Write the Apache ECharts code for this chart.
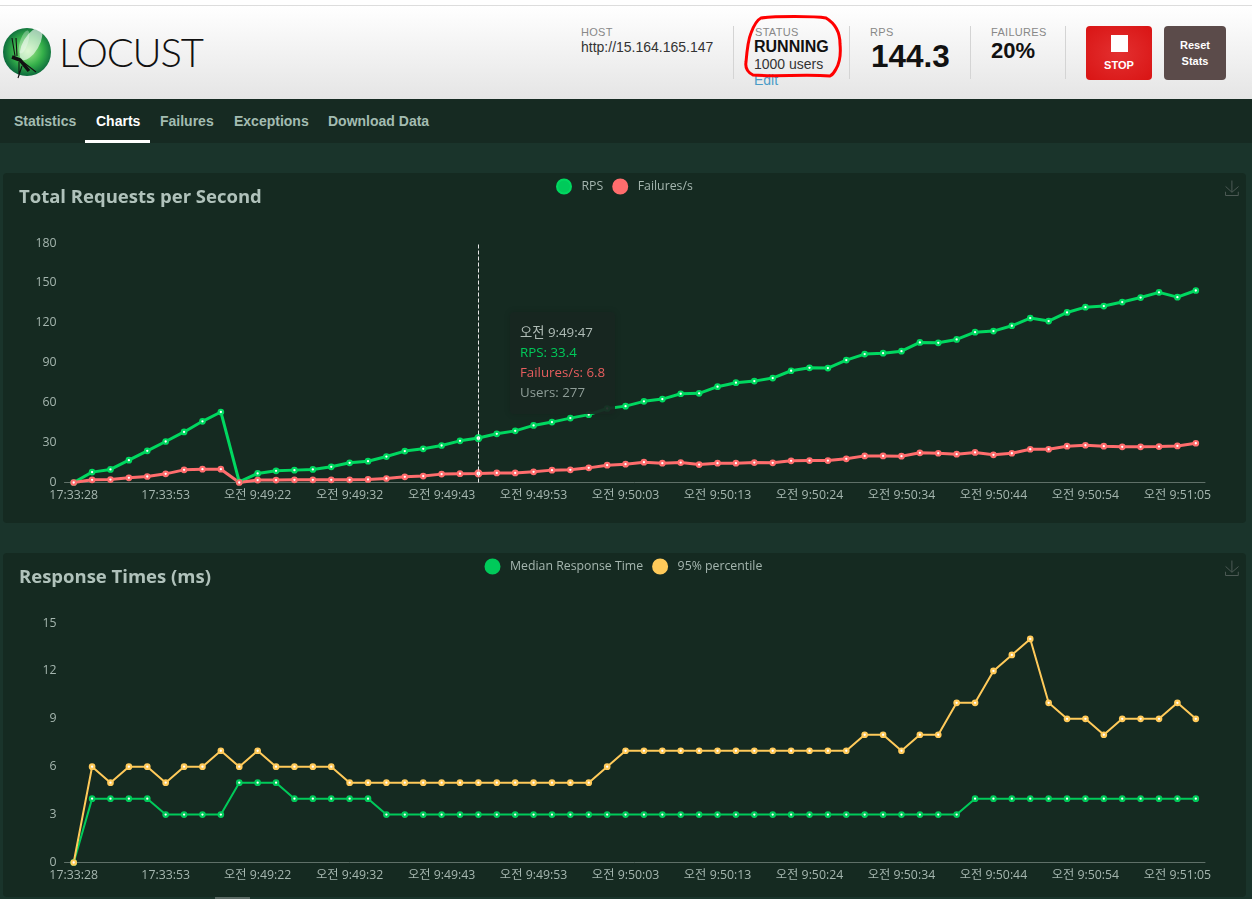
<!DOCTYPE html>
<html>
<head>
<meta charset="utf-8">
<title>Locust</title>
<script src="https://cdn.jsdelivr.net/npm/echarts@6/dist/echarts.min.js"></script>
<style>
  html, body { margin: 0; padding: 0; width: 1252px; height: 899px; overflow: hidden; background: #1a342b; font-family: "Liberation Sans", Arial, sans-serif; }
  .abs { position: absolute; white-space: nowrap; }
  #topbar { position: absolute; left: 0; top: 0; width: 1252px; height: 5px; background: #fff; }
  #header { position: absolute; left: 0; top: 5px; width: 1252px; height: 93px; border-top: 1px solid #ddd; background: linear-gradient(#fff, #e5e5e5); }
  #nav { position: absolute; left: 0; top: 99px; width: 1252px; height: 44px; background: #162a22; }
  #nav span { position: absolute; top: 14px; font-size: 14px; line-height: 16px; font-weight: bold; color: #a3bcb1; }
  #nav .on { color: #fff; }
  #nav i { position: absolute; left: 85px; top: 41px; width: 65px; height: 3px; background: #fff; }
  .label { font-size: 11px; line-height: 11px; color: #888; letter-spacing: .3px; }
  .sep { position: absolute; top: 26px; width: 1px; height: 53px; background: #d4d4d4; }
  .btn { position: absolute; top: 26px; height: 54px; border-radius: 4px; color: #fff; font-weight: bold; text-align: center; }
  .card { position: absolute; left: 3px; width: 1243px; background: #152a21; border-radius: 4px; }
</style>
</head>
<body>
<div id="topbar"></div>
<div id="header"></div>
<svg class="abs" style="left:0;top:20px" width="60" height="65" viewBox="0 20 60 65">
  <defs>
    <radialGradient id="ball" cx="52%" cy="48%" r="52%">
      <stop offset="0" stop-color="#a8ec8e"/>
      <stop offset=".6" stop-color="#35b04a"/>
      <stop offset="1" stop-color="#0c6a3c"/>
    </radialGradient>
  </defs>
  <circle cx="27" cy="52" r="24" fill="url(#ball)"/>
  <ellipse cx="31" cy="44" rx="8" ry="18" transform="rotate(30 31 44)" fill="#fff" opacity=".6"/>
  <ellipse cx="24" cy="42" rx="4" ry="12" transform="rotate(18 24 42)" fill="#fff" opacity=".3"/>
  <path d="M12 57 L20 60 L29 71" stroke="#111" stroke-width="3.5" fill="none"/>
  <path d="M12 38 L15 56 M16 38 L17 56 M19 62 L19 76 M23 62 L36 72 M22 66 L18 78" stroke="#111" stroke-width="1.1" fill="none"/>
</svg>
<div class="abs" style="left:59px;top:29px;font:300 40px/46px Lato,'Liberation Sans';color:#111;letter-spacing:-1.2px">LOCUST</div>

<div class="abs label" style="left:581px;top:27px">HOST</div>
<div class="abs" style="left:581px;top:39px;font-size:14px;line-height:16px;color:#333">http://15.164.165.147</div>
<div class="sep" style="left:733px"></div>
<div class="abs label" style="left:755px;top:27px">STATUS</div>
<div class="abs" style="left:754px;top:38px;font-size:16px;line-height:18px;font-weight:bold;color:#111">RUNNING</div>
<div class="abs" style="left:754px;top:56px;font-size:14px;line-height:16px;color:#333">1000 users</div>
<div class="abs" style="left:754px;top:72px;font-size:14px;line-height:16px;color:#4a9cc7">Edit</div>
<div class="sep" style="left:849px"></div>
<div class="abs label" style="left:870px;top:27px">RPS</div>
<div class="abs" style="left:871px;top:38px;font-size:31.5px;line-height:37px;font-weight:bold;color:#111">144.3</div>
<div class="sep" style="left:970px"></div>
<div class="abs label" style="left:991px;top:27px">FAILURES</div>
<div class="abs" style="left:991px;top:38px;font-size:22px;line-height:25px;font-weight:bold;color:#111">20%</div>
<div class="sep" style="left:1065px"></div>
<div class="btn" style="left:1086px;width:66px;background:radial-gradient(#e33030,#d91414)">
  <div style="position:absolute;left:25px;top:9px;width:17px;height:17px;background:#fff"></div>
  <div style="position:absolute;left:0;width:66px;top:32px;font-size:11px;line-height:14px">STOP</div>
</div>
<div class="btn" style="left:1164px;width:62px;background:#5b4b4a;font-size:11px;line-height:16px">
  <div style="margin-top:11px">Reset<br>Stats</div>
</div>
<svg class="abs" style="left:0;top:0;pointer-events:none" width="1252" height="99">
  <path d="M761 18 C775 16 815 16 826 18 C836 24 840 32 840 44 C841 54 840 62 836 69 C834 73 832 75 830 76 C805 74 775 77 753 75 C747 72 745 68 746 62 C747 50 748 40 751 33 C754 25 757 20 761 18 Z" fill="none" stroke="#f00" stroke-width="3"/>
</svg>

<div id="nav">
  <span style="left:14px">Statistics</span>
  <span class="on" style="left:96px">Charts</span>
  <span style="left:160px">Failures</span>
  <span style="left:234px">Exceptions</span>
  <span style="left:328px">Download Data</span>
  <i></i>
</div>

<div class="card" id="rpsChart" style="top:173px;height:350px"></div>
<div class="card" id="respChart" style="top:553px;height:344px"></div>
<div class="abs" style="left:215px;top:897px;width:35px;height:2px;background:#5a6a64"></div>

<script>
var times = [
  '17:33:28', '17:33:33', '17:33:38', '17:33:43', '17:33:48', '17:33:53', '17:33:58', '17:34:03', '17:34:08',
  '오전 9:49:20', '오전 9:49:22', '오전 9:49:24', '오전 9:49:26', '오전 9:49:28', '오전 9:49:30', '오전 9:49:32',
  '오전 9:49:34', '오전 9:49:36', '오전 9:49:38', '오전 9:49:41', '오전 9:49:43', '오전 9:49:45', '오전 9:49:47',
  '오전 9:49:49', '오전 9:49:51', '오전 9:49:53', '오전 9:49:55', '오전 9:49:57', '오전 9:49:59', '오전 9:50:01',
  '오전 9:50:03', '오전 9:50:05', '오전 9:50:07', '오전 9:50:09', '오전 9:50:11', '오전 9:50:13', '오전 9:50:15',
  '오전 9:50:17', '오전 9:50:19', '오전 9:50:22', '오전 9:50:24', '오전 9:50:26', '오전 9:50:28', '오전 9:50:30',
  '오전 9:50:32', '오전 9:50:34', '오전 9:50:36', '오전 9:50:38', '오전 9:50:40', '오전 9:50:42', '오전 9:50:44',
  '오전 9:50:46', '오전 9:50:48', '오전 9:50:50', '오전 9:50:52', '오전 9:50:54', '오전 9:50:56', '오전 9:50:58',
  '오전 9:51:00', '오전 9:51:03', '오전 9:51:05', '오전 9:51:07'
];
var rps = [
  0, 7.8, 9.8, 16.8, 23.8, 30.8, 38, 46, 53, 0.5,
  6.8, 8.8, 9.3, 9.8, 11.8, 14.8, 16, 19.5, 23.6, 25.3,
  27.8, 31.3, 33.4, 36.6, 38.8, 42.9, 45.4, 48.4, 51, 55.6,
  57.4, 61, 62.7, 66.7, 67, 72, 75, 76.2, 78.5, 84,
  86.2, 86, 92, 96.5, 97.2, 98.7, 105.3, 105, 107.5, 113,
  113.8, 117.8, 123.6, 121.3, 127.8, 131.8, 132.6, 135.6, 139, 142.9,
  139.3, 144.3
];
var failures = [
  0, 2, 2.2, 3.5, 4.5, 6.5, 9.5, 10, 10, 0,
  1.8, 1.8, 2, 2, 2, 2, 2.3, 3, 4.3, 4.8,
  6.3, 6.6, 6.8, 7.2, 7.2, 8, 9.3, 9.5, 11, 13,
  13.8, 15.3, 14.5, 15, 13.5, 14.5, 14.5, 15, 14.8, 16.3,
  16.5, 16.5, 17.8, 20, 20, 19.8, 22.3, 22, 21.3, 22.6,
  20.8, 22, 25, 25, 27.3, 28, 27.3, 26.8, 26.8, 27,
  27.5, 29.5
];
var medianTime = [
  0, 4, 4, 4, 4, 3, 3, 3, 3, 5, 5, 5, 4, 4, 4, 4, 4, 3, 3, 3,
  3, 3, 3, 3, 3, 3, 3, 3, 3, 3, 3, 3, 3, 3, 3, 3, 3, 3, 3, 3,
  3, 3, 3, 3, 3, 3, 3, 3, 3, 4, 4, 4, 4, 4, 4, 4, 4, 4, 4, 4,
  4, 4
];
var p95Time = [
  0, 6, 5, 6, 6, 5, 6, 6, 7, 6, 7, 6, 6, 6, 6, 5, 5, 5, 5, 5,
  5, 5, 5, 5, 5, 5, 5, 5, 5, 6, 7, 7, 7, 7, 7, 7, 7, 7, 7, 7,
  7, 7, 7, 8, 8, 7, 8, 8, 10, 10, 12, 13, 14, 10, 9, 9, 8, 9, 9, 9,
  10, 9
];
var hoverIndex = 22;
var hoverUsers = 277;

var fontName = '"Open Sans", "Noto Sans CJK KR", sans-serif';
var labelColor = '#a5b6af';

function makeSeries(name, values, color, width) {
  return {
    name: name,
    type: 'line',
    data: values,
    showSymbol: true,
    showAllSymbol: true,
    symbol: 'circle',
    symbolSize: 4.5,
    emphasis: { disabled: true },
    itemStyle: { color: '#fff', borderColor: color, borderWidth: 2.2 },
    lineStyle: { color: color, width: width }
  };
}

function makeOption(title, legendLeft, legendItems, yMax, yStep, series) {
  return {
    animation: false,
    textStyle: { fontFamily: fontName },
    title: {
      text: title,
      left: 11,
      top: 10,
      textStyle: { color: '#b0c2bb', fontSize: 18.5, fontWeight: 'bold', fontFamily: fontName }
    },
    legend: {
      left: legendLeft,
      top: 0.5,
      icon: 'circle',
      itemWidth: 25,
      itemHeight: 14,
      itemGap: 9,
      data: legendItems,
      textStyle: { color: labelColor, fontSize: 12.3 }
    },
    toolbox: {
      right: 5,
      top: 5,
      padding: 0,
      itemSize: 15,
      feature: { saveAsImage: { title: '' } },
      iconStyle: { borderColor: '#4d5a55', borderWidth: 1 }
    },
    grid: { left: 61.5, width: 1140.5, top: 70, height: 239.5 },
    xAxis: {
      type: 'category',
      data: times,
      axisLine: { lineStyle: { color: '#5f7068' } },
      axisTick: { interval: 4, lineStyle: { color: '#5f7068' } },
      axisLabel: { interval: 4, color: labelColor, fontSize: 12.3, margin: 7 }
    },
    yAxis: {
      type: 'value',
      min: 0,
      max: yMax,
      interval: yStep,
      splitLine: { show: false },
      axisLine: { show: false },
      axisTick: { show: false },
      axisLabel: { color: labelColor, fontSize: 12.3, margin: 8 }
    },
    series: series
  };
}

var rpsChart = echarts.init(document.getElementById('rpsChart'));
var rpsOption = makeOption('Total Requests per Second', 548, [
  { name: 'RPS', itemStyle: { color: '#00ca5a' } },
  { name: 'Failures/s', itemStyle: { color: '#ff6d6d' } }
], 180, 30, [
  makeSeries('RPS', rps, '#00d860', 3),
  makeSeries('Failures/s', failures, '#ff6d6d', 3)
]);
rpsOption.tooltip = {
  trigger: 'axis',
  triggerOn: 'none',
  alwaysShowContent: true,
  transitionDuration: 0,
  position: [507, 139],
  padding: [10, 10, 12, 10],
  backgroundColor: 'rgba(24,38,32,0.93)',
  borderWidth: 0,
  extraCssText: 'box-shadow:0 0 6px rgba(0,0,0,.15);border-radius:4px;',
  axisPointer: { type: 'line', lineStyle: { color: '#e6e6e6', width: 1, type: 'dashed' } },
  formatter: function(params) {
    return '<div style="font:13.3px/20px ' + fontName.replace(/"/g, "'") + '">' +
      '<div style="color:#b0bdb7">' + params[0].name + '</div>' +
      '<div style="color:#00ca5a">RPS: ' + params[0].value + '</div>' +
      '<div style="color:#e65e5e">Failures/s: ' + params[1].value + '</div>' +
      '<div style="color:#8f9e98">Users: ' + hoverUsers + '</div>' +
      '</div>';
  }
};
rpsChart.setOption(rpsOption);
rpsChart.dispatchAction({ type: 'showTip', seriesIndex: 0, dataIndex: hoverIndex });

var respChart = echarts.init(document.getElementById('respChart'));
respChart.setOption(makeOption('Response Times (ms)', 476.5, [
  { name: 'Median Response Time', itemStyle: { color: '#00ca5a' } },
  { name: '95% percentile', itemStyle: { color: '#ffca5a' } }
], 15, 3, [
  makeSeries('Median Response Time', medianTime, '#00ca5a', 2),
  makeSeries('95% percentile', p95Time, '#ffca5a', 2)
]));
</script>
</body>
</html>
